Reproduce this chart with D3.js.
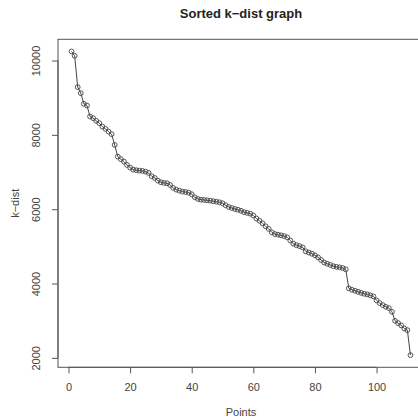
<!DOCTYPE html>
<html>
<head>
<meta charset="utf-8">
<script src="https://cdn.jsdelivr.net/npm/d3@7"></script>
<style>
  html, body { margin: 0; padding: 0; background: #fff; }
  svg { display: block; }
  text { font-family: "Liberation Sans", Arial, Helvetica, sans-serif; }
</style>
</head>
<body>
<svg id="chart" width="418" height="420"></svg>
<script>
// Sorted k-dist values (index 1..111)
const kdist = [
  10244, 10128, 9285, 9123, 8835, 8789, 8493, 8450, 8377, 8315,
  8223, 8161, 8089, 8018, 7730, 7415, 7345, 7280, 7191, 7118,
  7065, 7048, 7038, 7030, 7011, 6976, 6887, 6841, 6769, 6725,
  6706, 6698, 6652, 6572, 6526, 6499, 6472, 6464, 6445, 6402,
  6321, 6275, 6256, 6248, 6240, 6230, 6213, 6202, 6186, 6160,
  6106, 6060, 6033, 6006, 5985, 5957, 5920, 5901, 5880, 5831,
  5750, 5688, 5620, 5540, 5470, 5378, 5332, 5314, 5297, 5276,
  5243, 5157, 5071, 5031, 5006, 4974, 4866, 4834, 4802, 4759,
  4705, 4632, 4565, 4532, 4500, 4465, 4449, 4435, 4417, 4382,
  3872, 3832, 3805, 3778, 3748, 3724, 3708, 3681, 3654, 3546,
  3474, 3420, 3374, 3339, 3239, 2997, 2935, 2873, 2792, 2746,
  2073
];
const xTicks = [0, 20, 40, 60, 80, 100];
const yTicks = [2000, 4000, 6000, 8000, 10000];
const titleText = "Sorted k\u2212dist graph";
const xLabel = "Points";
const yLabel = "k\u2212dist";

const points = kdist.map((v, i) => ({ x: i + 1, y: v }));

const svg = d3.select("#chart");
const L = 58, R = 424, T = 39.3, B = 367.3;

const n = points.length;
const xr = n - 1, xpad = 0.04 * xr;
const x = d3.scaleLinear().domain([1 - xpad, n + xpad]).range([L, R]);
const ymin = d3.min(kdist), ymax = d3.max(kdist), ypad = 0.04 * (ymax - ymin);
const y = d3.scaleLinear().domain([ymin - ypad, ymax + ypad]).range([B, T]);

const axisColor = "#555";

// box
svg.append("rect")
  .attr("x", L).attr("y", T).attr("width", R - L).attr("height", B - T)
  .attr("fill", "none").attr("stroke", axisColor).attr("stroke-width", 1);

// x axis
const gx = svg.append("g").attr("transform", `translate(0,${B})`)
  .call(d3.axisBottom(x).tickValues(xTicks).tickSize(6).tickPadding(10).tickFormat(d3.format("d")));
gx.select(".domain").attr("d", `M${x(xTicks[0])},0H${x(xTicks[xTicks.length-1])}`).attr("stroke", axisColor);
gx.selectAll(".tick line").attr("stroke", axisColor);
gx.selectAll(".tick text").attr("fill", "#444").attr("font-size", 11);

// y axis
const gy = svg.append("g").attr("transform", `translate(${L},0)`)
  .call(d3.axisLeft(y).tickValues(yTicks).tickSize(6).tickFormat(d3.format("d")));
gy.select(".domain").attr("d", `M0,${y(yTicks[0])}V${y(yTicks[yTicks.length-1])}`).attr("stroke", axisColor);
gy.selectAll(".tick line").attr("stroke", axisColor);
gy.selectAll(".tick text")
  .attr("fill", "#444").attr("font-size", 11)
  .attr("x", null).attr("dy", null)
  .attr("text-anchor", "middle")
  .attr("transform", "translate(-18,0) rotate(-90)");

// line
svg.append("path")
  .datum(points)
  .attr("fill", "none")
  .attr("stroke", "#444")
  .attr("stroke-width", 1)
  .attr("d", d3.line().x(d => x(d.x)).y(d => y(d.y)));

// circles
svg.append("g").selectAll("circle")
  .data(points).join("circle")
  .attr("cx", d => x(d.x)).attr("cy", d => y(d.y))
  .attr("r", 2.4)
  .attr("fill", "none")
  .attr("stroke", "#444")
  .attr("stroke-width", 0.9);

// title
svg.append("text")
  .attr("x", (L + R) / 2).attr("y", 18)
  .attr("text-anchor", "middle")
  .attr("font-size", 13).attr("font-weight", "bold").attr("fill", "#222")
  .text(titleText);

// axis labels
svg.append("text")
  .attr("x", (L + R) / 2).attr("y", 416)
  .attr("text-anchor", "middle")
  .attr("font-size", 11).attr("fill", "#444")
  .text(xLabel);

svg.append("text")
  .attr("transform", `translate(19,${(T + B) / 2}) rotate(-90)`)
  .attr("text-anchor", "middle")
  .attr("font-size", 11).attr("fill", "#444")
  .text(yLabel);
</script>
</body>
</html>
